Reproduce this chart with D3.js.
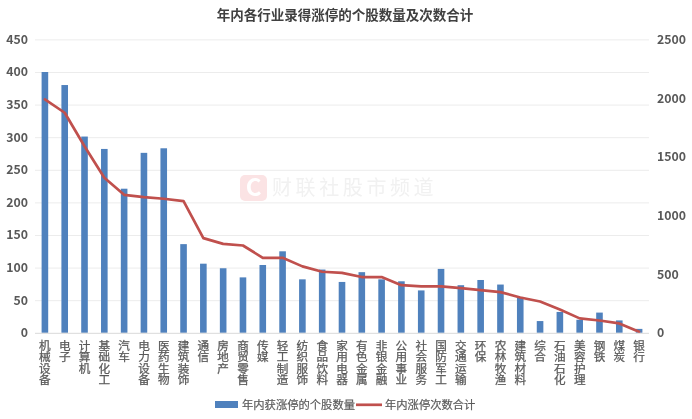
<!DOCTYPE html>
<html><head><meta charset="utf-8">
<script src="https://cdnjs.cloudflare.com/ajax/libs/d3/7.8.5/d3.min.js"></script>
<style>html,body{margin:0;padding:0;background:#fff}svg{display:block;filter:blur(.3px)}text{font-family:"Noto Sans CJK SC","Noto Sans",sans-serif}</style>
</head><body><svg id="c" width="692" height="419"></svg>
<script>
const categories=["机械设备","电子","计算机","基础化工","汽车","电力设备","医药生物","建筑装饰","通信","房地产","商贸零售","传媒","轻工制造","纺织服饰","食品饮料","家用电器","有色金属","非银金融","公用事业","社会服务","国防军工","交通运输","环保","农林牧渔","建筑材料","综合","石油石化","美容护理","钢铁","煤炭","银行"];
const stockCounts=[400,380,301,282,221,276,283,136,106,99,85,104,125,82,97,78,93,82,79,65,98,73,81,74,55,18,32,20,31,19,6];
const limitUpTotals=[1989,1875,1590,1321,1176,1156,1142,1122,807,758,744,639,639,566,520,511,475,475,406,395,395,381,364,347,301,267,199,123,105,80,9];
const leftTicks=[0,50,100,150,200,250,300,350,400,450];
const rightTicks=[0,500,1000,1500,2000,2500];
const titleText="年内各行业录得涨停的个股数量及次数合计";
const seriesNames=["年内获涨停的个股数量","年内涨停次数合计"];
const watermark="财联社股市频道";

const svg=d3.select("#c");
const L=35,R=649,T=39.4,B=332.8;
const x=d3.scaleBand().domain(categories).range([L,R]);
const yL=d3.scaleLinear().domain([0,450]).range([B,T]);
const yR=d3.scaleLinear().domain([0,2500]).range([B,T]);
const txt="#595959",grid="#ececec",blue="#4f81bd",red="#c0504d";

// watermark
const wm=svg.append("g");
wm.append("rect").attr("x",240).attr("y",175).attr("width",27).attr("height",26).attr("rx",5).attr("fill","#fbe3e4");
wm.append("text").attr("x",253.5).attr("y",196).attr("text-anchor","middle").attr("font-size",24).attr("font-weight",700).attr("fill","#fff").text("C");
wm.append("text").attr("x",272).attr("y",195).attr("font-size",20).attr("letter-spacing","3.6px").attr("fill","#f1f1f1").text(watermark);

// grid
svg.append("g").selectAll("line").data(leftTicks.slice(1)).join("line")
 .attr("x1",L).attr("x2",R).attr("y1",d=>yL(d)+.5).attr("y2",d=>yL(d)+.5).attr("stroke",grid).attr("stroke-width",1);

// bars
const barW=6.6;
svg.append("g").selectAll("rect").data(categories).join("rect")
 .attr("x",d=>x(d)+x.bandwidth()/2-barW/2).attr("width",barW)
 .attr("y",(d,i)=>yL(stockCounts[i])).attr("height",(d,i)=>B-yL(stockCounts[i])).attr("fill",blue);

// line
const line=d3.line().x((d,i)=>x(categories[i])+x.bandwidth()/2).y(d=>yR(d));
svg.append("path").datum(limitUpTotals).attr("d",line).attr("fill","none").attr("stroke",red).attr("stroke-width",2.7).attr("stroke-linejoin","round").attr("stroke-linecap","round");

// axes
const ax=svg.append("g").attr("transform",`translate(0,${B})`).call(d3.axisBottom(x).tickSize(0).tickPadding(0));
ax.select(".domain").attr("stroke","#d9d9d9").attr("stroke-width",1).attr("d",`M${L},.5H${R}`);
ax.selectAll("text").attr("y",null).attr("dy",null).attr("fill",txt).attr("stroke",txt).attr("stroke-width",.25).attr("font-size",11.6).attr("text-anchor","start")
 .style("writing-mode","vertical-rl").style("text-orientation","upright").style("letter-spacing","-.15px").attr("transform","translate(0,7)").attr("font-family",'"Noto Sans CJK SC"');
const fmt=d3.format("d");
const aL=svg.append("g").attr("transform",`translate(${L-7},0)`).call(d3.axisLeft(yL).tickValues(leftTicks).tickFormat(fmt).tickSize(0).tickPadding(0));
aL.select(".domain").remove();
aL.selectAll("text").attr("fill",txt).attr("font-size",12.3).attr("font-weight",600).attr("font-family",'"Open Sans"');
const aR=svg.append("g").attr("transform",`translate(657,0)`).call(d3.axisRight(yR).tickValues(rightTicks).tickFormat(fmt).tickSize(0).tickPadding(0));
aR.select(".domain").remove();
aR.selectAll("text").attr("fill",txt).attr("font-size",12.3).attr("font-weight",600).attr("font-family",'"Open Sans"');

// title
svg.append("text").attr("x",345).attr("y",20).attr("text-anchor","middle").attr("font-size",13.5).attr("font-weight",700).attr("fill","#404040").text(titleText);

// legend
svg.append("rect").attr("x",215).attr("y",401).attr("width",23).attr("height",7).attr("fill",blue);
svg.append("text").attr("x",242).attr("y",409).attr("font-size",11.3).attr("fill",txt).attr("stroke",txt).attr("stroke-width",.2).text(seriesNames[0]);
svg.append("line").attr("x1",356).attr("x2",382).attr("y1",404.8).attr("y2",404.8).attr("stroke",red).attr("stroke-width",2.7);
svg.append("text").attr("x",385).attr("y",409).attr("font-size",11.3).attr("fill",txt).attr("stroke",txt).attr("stroke-width",.2).text(seriesNames[1]);
</script></body></html>
